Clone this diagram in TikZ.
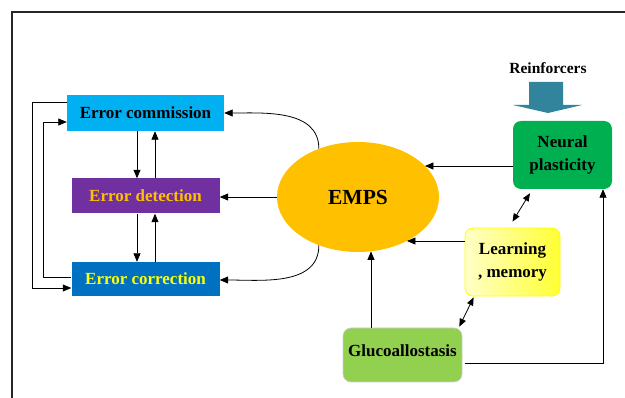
\documentclass[tikz,border=0pt]{standalone}
\usepackage{fontspec}
\setmainfont{Liberation Serif}
\usetikzlibrary{shapes.geometric,arrows.meta}
\definecolor{cComm}{HTML}{00B0F0}
\definecolor{cDet}{HTML}{7030A0}
\definecolor{cGold}{HTML}{FFC000}
\definecolor{cCorr}{HTML}{0070C0}
\definecolor{cEmps}{HTML}{FFC000}
\definecolor{cNeur}{HTML}{00B050}
\definecolor{cGluc}{HTML}{92D050}
\definecolor{cReinf}{HTML}{31849B}
\definecolor{cYel}{HTML}{FFFF00}
\begin{document}
\begin{tikzpicture}[x=1pt,y=-1pt,
  box/.style={draw=none, inner sep=0pt, font=\fontsize{17}{23}\selectfont\bfseries, align=center},
  arr/.style={-{Triangle[length=8.5pt,width=7pt]}, line width=0.8pt},
  darr/.style={{Triangle[length=8pt,width=6.5pt]}-{Triangle[length=8pt,width=6.5pt]}, line width=0.8pt},
  curv/.style={-{Triangle[length=8.5pt,width=7pt]}, line width=0.8pt}]
\useasboundingbox (0,0) rectangle (625,398);
% frame
\draw[line width=2pt, black!85] (12,398) -- (12,12) -- (625,12);
% left column boxes
\node[box, fill=cComm, text=black, minimum width=157pt, minimum height=36pt] (ec) at (145.5,113) {Error commission};
\node[box, fill=cDet, text=cGold, minimum width=148pt, minimum height=35pt] (ed) at (145.5,196) {Error detection};
\node[box, fill=cCorr, text=cYel, minimum width=148pt, minimum height=34pt] (ecr) at (145.5,279) {Error correction};
% EMPS
\node[ellipse, fill=cEmps, minimum width=162pt, minimum height=110pt, inner sep=0pt,
  font=\fontsize{21.5}{24}\selectfont\bfseries] (emps) at (358,197) {\raisebox{-5pt}{EMPS}};
% right boxes
\node[box, rounded corners=8pt, fill=cNeur, minimum width=99pt, minimum height=68pt] (np) at (562.5,155) {Neural\\plasticity};
\node[box, rounded corners=8pt, draw=cYel, line width=0.8pt, left color=cYel!22, right color=cYel!80,
  minimum width=95pt, minimum height=68pt] (lm) at (512.5,262) {Learning\\, memory};
\node[box, rounded corners=8pt, fill=cGluc, draw=black!20, line width=0.6pt,
  minimum width=119pt, minimum height=54pt] (gl) at (402.5,355) {\raisebox{8pt}{Glucoallostasis}};
% reinforcers
\node[font=\fontsize{15.5}{18}\selectfont\bfseries] (rf) at (548,68) {Reinforcers};
\fill[cReinf] (529,82) -- (563,82) -- (563,105) -- (582,105) -- (548,113) -- (513,105) -- (529,105) -- cycle;
% vertical arrows in left column
\draw[arr] ([xshift=-8.5pt]ec.south) -- ([xshift=-8.5pt]ed.north);
\draw[arr] ([xshift=9.5pt]ed.north) -- ([xshift=9.5pt]ec.south);
\draw[arr] ([xshift=-8.5pt]ed.south) -- ([xshift=-8.5pt]ecr.north);
\draw[arr] ([xshift=9.5pt]ecr.north) -- ([xshift=9.5pt]ed.south);
% left loops
\draw[arr] ([yshift=11pt]ec.west) -- ++(-34.5,0) |- ([yshift=-9pt]ecr.west);
\draw[arr] ([yshift=2pt]ecr.west) -- ++(-28,0) |- ([yshift=-9pt]ec.west);
% EMPS to left column
\draw[arr] (emps.west) -- (emps.west -| ed.east);
\draw[curv] (emps.129) to[out=90, in=0] (ec.east);
\draw[curv] (emps.231) to[out=-90, in=0] ([yshift=-1pt]ecr.east);
% right side to EMPS
\coordinate (npo) at ([yshift=-11pt]np.west);
\draw[arr] (npo) -- (emps.25 |- npo);
\coordinate (lmo) at ([yshift=21pt]lm.west);
\draw[arr] (lmo) -- (emps.-42 |- lmo);
\coordinate (glo) at ([xshift=-31.5pt]gl.north);
\draw[arr] (glo) -- (emps.-76.5 -| glo);
% double arrows
\draw[darr] ([xshift=-32.5pt,yshift=-4pt]np.south) -- ([yshift=6pt]lm.north);
\draw[darr] ([xshift=-3pt,yshift=1pt]gl.north east) -- ([xshift=9pt,yshift=-1pt]lm.south west);
% gluco to neural
\draw[arr] ([xshift=3pt,yshift=-8pt]gl.east) -| ([xshift=40.5pt]np.south);
\end{tikzpicture}
\end{document}
